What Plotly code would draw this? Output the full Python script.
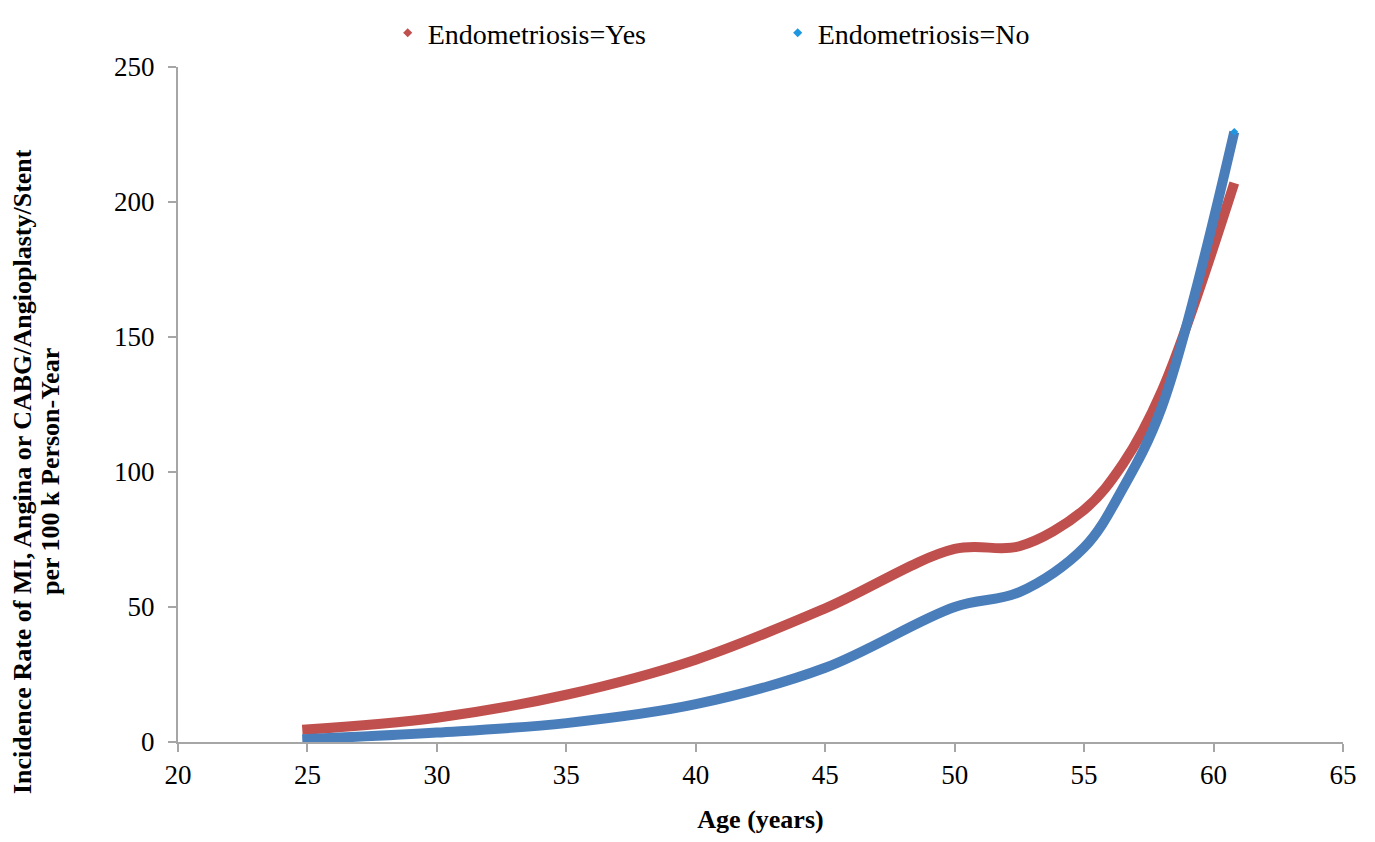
import plotly.graph_objects as go

age = [24.8, 30, 35, 40, 45, 50, 52.5, 55, 56.5, 58, 60.8]
rate_yes = [4.5, 9, 17.5, 30.5, 49.5, 71.5, 72.5, 86, 103, 130, 207]
rate_no = [1, 3.5, 7, 14, 27.5, 50, 55.5, 72, 94, 124, 226]

name_yes = "Endometriosis=Yes"
name_no = "Endometriosis=No"
ytitle_lines = ["Incidence Rate of MI, Angina or CABG/Angioplasty/Stent", "per 100 k Person-Year"]
red = "#C0504D"
blue = "#4A7EBB"
FONT = "Liberation Serif, Times New Roman, serif"

fig = go.Figure()
fig.add_trace(go.Scatter(x=age, y=rate_yes, mode="lines", line=dict(color=red, width=10, shape="spline", smoothing=1.0),
                         showlegend=False))
fig.add_trace(go.Scatter(x=age, y=rate_no, mode="lines", line=dict(color=blue, width=10, shape="spline", smoothing=1.0),
                         showlegend=False))
fig.add_trace(go.Scatter(x=[age[-1]], y=[rate_no[-1]], mode="markers",
                         marker=dict(symbol="diamond", size=6, color="#1E96E0"), showlegend=False))
# legend entries (marker only)
fig.add_trace(go.Scatter(x=[None], y=[None], mode="markers", name=name_yes,
                         marker=dict(symbol="diamond", size=7, color=red)))
fig.add_trace(go.Scatter(x=[None], y=[None], mode="markers", name=name_no,
                         marker=dict(symbol="diamond", size=7, color="#1E96E0")))

W, H = 1359, 826
L, R, T, B = 170, 24, 59, 92
pw = W - L - R
ph = H - T - B

fig.update_layout(
    width=W, height=H,
    paper_bgcolor="white", plot_bgcolor="white",
    margin=dict(l=L, r=R, t=T, b=B, autoexpand=False),
    font=dict(family=FONT, size=27, color="black"),
    legend=dict(orientation="h", x=0.18, xanchor="left", y=1.0, yanchor="top", yref="container",
                entrywidth=345, entrywidthmode="pixels",
                font=dict(family=FONT, size=28), itemwidth=30, itemsizing="trace"),
    xaxis=dict(range=[20, 65], tickvals=[20, 25, 30, 35, 40, 45, 50, 55, 60, 65], automargin=False,
               showgrid=False, zeroline=False, showline=True, linecolor="#A6A6A6", linewidth=2,
               ticks="outside", tickcolor="#A6A6A6", ticklen=8, tickwidth=2, ticklabelstandoff=0,
               tickfont=dict(family=FONT, size=27),
               title=dict(text="<b>Age (years)</b>", font=dict(family=FONT, size=26), standoff=34)),
    yaxis=dict(range=[0, 250], tickvals=[0, 50, 100, 150, 200, 250], automargin=False,
               showgrid=False, zeroline=False, showline=True, linecolor="#A6A6A6", linewidth=2,
               ticks="outside", tickcolor="#A6A6A6", ticklen=8, tickwidth=2, ticklabelstandoff=8,
               tickfont=dict(family=FONT, size=27)),
    annotations=[
        dict(text="<b>" + ytitle_lines[0] + "</b>", textangle=-90, xref="paper", yref="paper",
             x=(14 - L) / pw, y=0.40, xanchor="center", yanchor="middle", showarrow=False,
             font=dict(family=FONT, size=26)),
        dict(text="<b>" + ytitle_lines[1] + "</b>", textangle=-90, xref="paper", yref="paper",
             x=(42 - L) / pw, y=0.40, xanchor="center", yanchor="middle", showarrow=False,
             font=dict(family=FONT, size=26)),
    ],
)

fig.write_html("out.html")
